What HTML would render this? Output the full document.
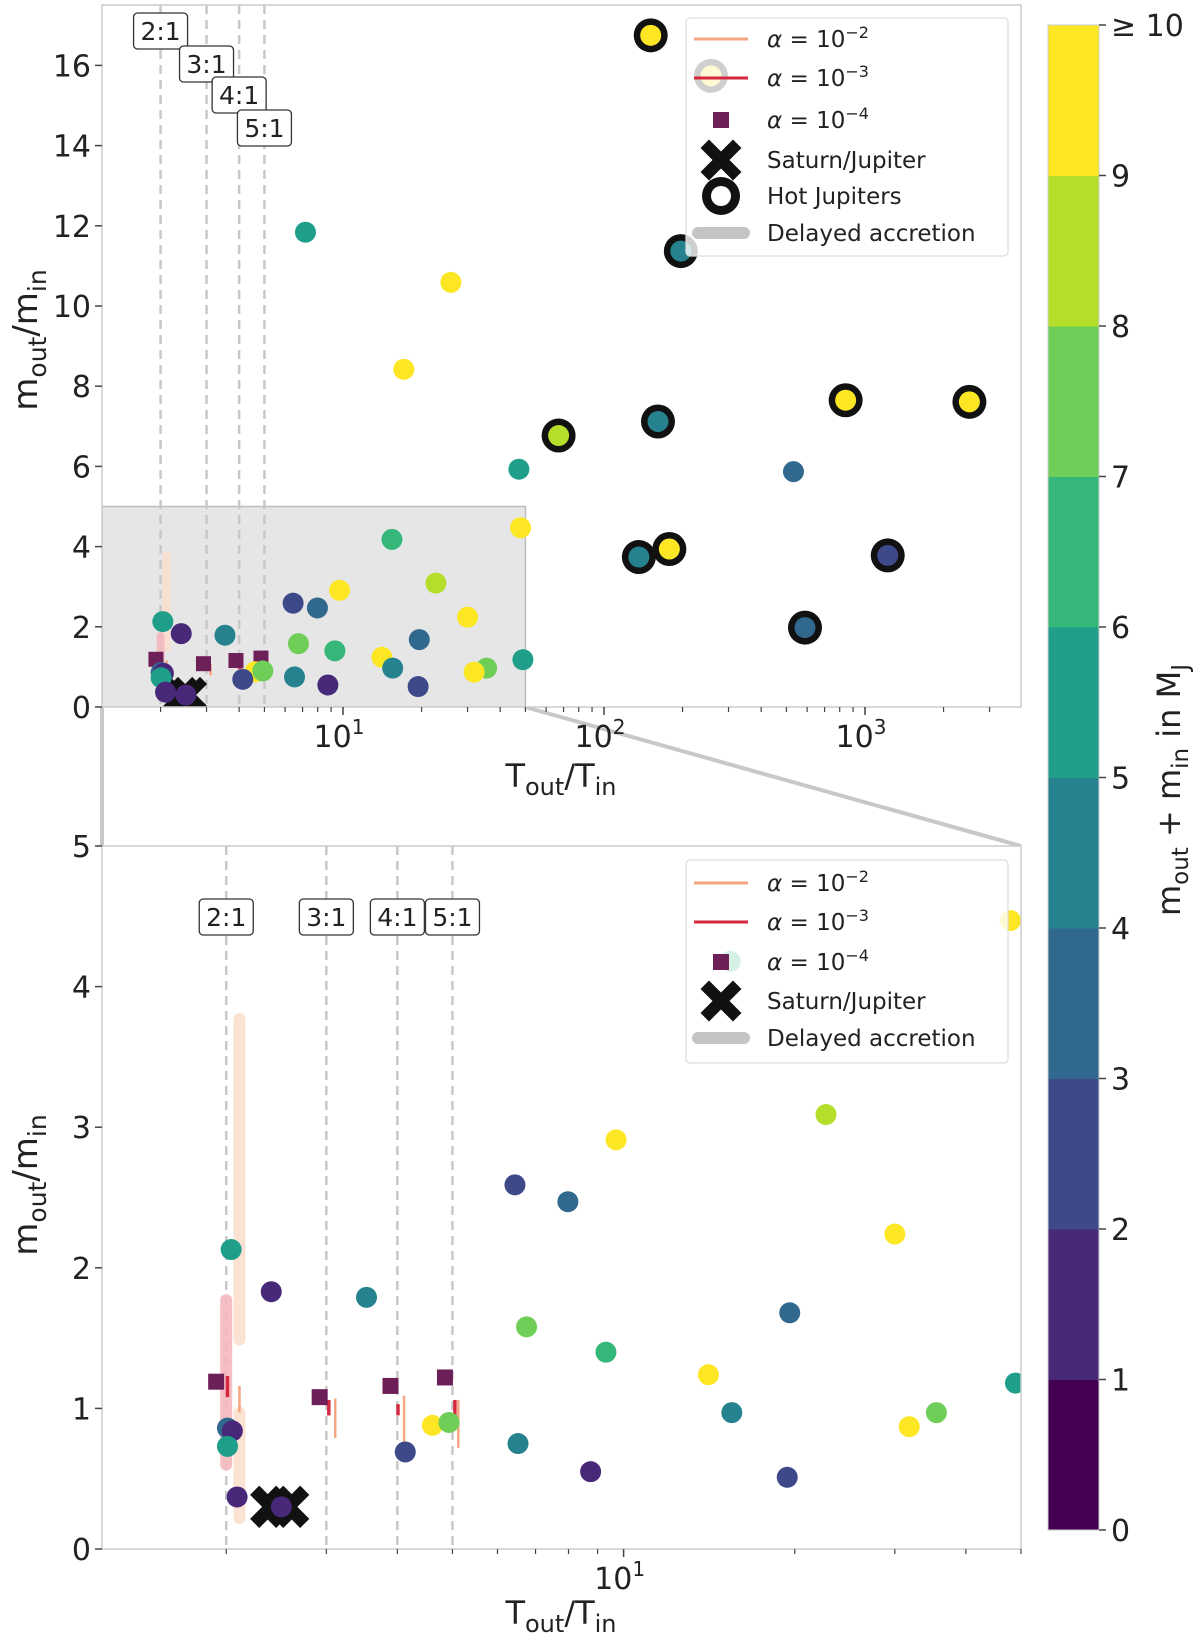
<!DOCTYPE html>
<html><head><meta charset="utf-8"><style>
html,body{margin:0;padding:0;background:#fff}
svg{display:block;font-family:"DejaVu Sans","Liberation Sans",sans-serif}
</style></head><body>
<svg id="fig" width="1200" height="1642" viewBox="0 0 1200 1642" xmlns="http://www.w3.org/2000/svg"></svg>
<script>
// ---- data ----
const ptsT = [151, 7.18, 197, 25.9, 17.1, 843, 2512, 161, 67, 47.2, 532, 178, 136, 1222, 589, 257,
  47.9, 22.7, 9.7, 6.44, 7.98, 30, 2.04, 2.4, 3.53, 19.6, 6.75, 9.31, 14.1, 48.9, 15.5, 35.5, 31.8, 4.61, 4.93, 2.01, 2.05, 2.01, 6.52, 4.13, 8.75, 19.4, 2.09, 2.5, 15.4];
const ptsM = [16.75, 11.84, 11.37, 10.59, 8.42, 7.65, 7.61, 7.12, 6.77, 5.93, 5.87, 3.94, 3.74, 3.78, 1.98, 15.74,
  4.47, 3.09, 2.91, 2.59, 2.47, 2.24, 2.13, 1.83, 1.79, 1.68, 1.58, 1.40, 1.24, 1.18, 0.97, 0.97, 0.87, 0.88, 0.90, 0.86, 0.84, 0.73, 0.75, 0.69, 0.55, 0.51, 0.37, 0.30, 4.18];
const ptsLevel = [9, 5, 4, 9, 9, 9, 9, 4, 8, 5, 3, 9, 4, 2, 3, 9,
  9, 8, 9, 2, 3, 9, 5, 1, 4, 3, 7, 6, 9, 5, 4, 7, 9, 9, 7, 3, 1, 5, 4, 2, 1, 2, 1, 1, 6];
const ptsHJ = [1, 0, 1, 0, 0, 1, 1, 1, 1, 0, 0, 1, 1, 1, 1, 1,
  0, 0, 0, 0, 0, 0, 0, 0, 0, 0, 0, 0, 0, 0, 0, 0, 0, 0, 0, 0, 0, 0, 0, 0, 0, 0, 0, 0, 0];
const sqT = [1.92, 2.92, 3.89, 4.85];
const sqM = [1.19, 1.08, 1.16, 1.22];
const a2T = [2.11, 3.11, 4.11, 5.12];
const a2Lo = [0.97, 0.79, 0.76, 0.72];
const a2Hi = [1.16, 1.07, 1.09, 1.06];
const a3T = [2.01, 3.03, 4.01, 5.05];
const a3Lo = [1.08, 0.95, 0.95, 0.95];
const a3Hi = [1.23, 1.06, 1.03, 1.06];
const bandT = [2.11, 2.11, 2.0];
const bandLo = [1.49, 0.22, 0.60];
const bandHi = [3.77, 0.97, 1.77];
const bandColor = ["#fbdfcf", "#fbdfcf", "#f4b9bd"];
const sjT = [2.4, 2.57];
const sjM = [0.30, 0.30];
const resRatio = [2, 3, 4, 5];
const resLabels = ["2:1", "3:1", "4:1", "5:1"];
const viridis = ["#440154", "#482878", "#3e4989", "#31688e", "#26828e", "#1f9e89", "#35b779", "#6ece58", "#b5de2b", "#fde725"];
const cbTicks = ["0", "1", "2", "3", "4", "5", "6", "7", "8", "9", "≥ 10"];
const topYTicks = [0, 2, 4, 6, 8, 10, 12, 14, 16];
const botYTicks = [0, 1, 2, 3, 4, 5];

const NS = "http://www.w3.org/2000/svg";
const svg = document.getElementById("fig");
function mk(tag, attrs, parent) {
  const e = document.createElementNS(NS, tag);
  for (const k in attrs) e.setAttribute(k, attrs[k]);
  (parent || svg).appendChild(e);
  return e;
}
const L = Math.log10;
function xPath(cx, cy, d) {
  return `M${cx - d},${cy - d}L${cx + d},${cy + d}M${cx - d},${cy + d}L${cx + d},${cy - d}`;
}

const panels = [
  {key: "top", x0: 102, x1: 1021, yb: 707, yt: 5, xmaxV: 3975,
   sx: v => 343 + (L(v) - 1) * 261, sy: v => 707 - v * 40.1, yticks: topYTicks,
   labelY: [31, 64, 95, 128], hj: true, xs: 11, xw: 10},
  {key: "bottom", x0: 102, x1: 1021, yb: 1549, yt: 846, xmaxV: 50,
   sx: v => 623.6 + (L(v) - 1) * 568.5, sy: v => 1549 - v * 140.6, yticks: botYTicks,
   labelY: [917, 917, 917, 917], hj: false, xs: 12, xw: 13}
];

const defs = mk("defs", {});
let cl = mk("line", {x1: 102, y1: 707, x2: 102, y2: 846, stroke: "#c8c8c8", "stroke-width": 4});


cl = mk("line", {x1: 525, y1: 707, x2: 1021, y2: 846, stroke: "#c8c8c8", "stroke-width": 4});



panels.forEach(p => {
  const cp = mk("clipPath", {id: "clip-" + p.key}, defs);
  mk("rect", {x: p.x0, y: p.yt, width: p.x1 - p.x0, height: p.yb - p.yt}, cp);
  const g = mk("g", {});
  
  
  const plot = mk("g", {"clip-path": "url(#clip-" + p.key + ")"}, g);
  mk("rect", {x: p.x0, y: p.yt, width: p.x1 - p.x0, height: p.yb - p.yt, fill: "#fff"}, plot);
  if (p.key === "top") {
    const ir = mk("rect", {x: p.x0, y: p.sy(5), width: p.sx(50) - p.x0, height: p.yb - p.sy(5), fill: "#e6e6e6", stroke: "#bdbdbd", "stroke-width": 1.5}, plot);
    
    
  }
  resRatio.forEach((r, i) => {
    const ln = mk("line", {x1: p.sx(r), x2: p.sx(r), y1: p.yt, y2: p.yb, stroke: "#c8c8c8", "stroke-width": 2.5, "stroke-dasharray": "9,6"}, plot);
    
    
  });
  bandT.forEach((t, i) => {
    const b = mk("line", {x1: p.sx(t), x2: p.sx(t), y1: p.sy(bandLo[i]), y2: p.sy(bandHi[i]), stroke: bandColor[i], "stroke-width": p.key === "top" ? 8 : 12, "stroke-linecap": "round", opacity: 0.9}, plot);
    
    
  });
  a2T.forEach((t, i) => {
    const b = mk("line", {x1: p.sx(t), x2: p.sx(t), y1: p.sy(a2Lo[i]), y2: p.sy(a2Hi[i]), stroke: "#f4a582", "stroke-width": 2.5}, plot);
    
    
  });
  a3T.forEach((t, i) => {
    const b = mk("line", {x1: p.sx(t), x2: p.sx(t), y1: p.sy(a3Lo[i]), y2: p.sy(a3Hi[i]), stroke: "#d6273e", "stroke-width": 3.5}, plot);
    
    
  });
  const ss = p.key === "top" ? 15 : 16;
  sqT.forEach((t, i) => {
    const s = mk("rect", {x: p.sx(t) - ss / 2, y: p.sy(sqM[i]) - ss / 2, width: ss, height: ss, fill: "#6d1f58"}, plot);
    
    
  });
  sjT.forEach((t, i) => {
    const x = mk("path", {d: xPath(p.sx(t), p.sy(sjM[i]), p.xs), stroke: "#111", "stroke-width": p.xw, "stroke-linecap": "square"}, plot);
    
    
  });
  ptsT.forEach((t, i) => {
    const cx = p.sx(t), cy = p.sy(ptsM[i]);
    if (ptsHJ[i] && p.hj) {
      const r = mk("circle", {cx, cy, r: 17, fill: "#111"}, plot);
      
      
    }
    const c = mk("circle", {cx, cy, r: ptsHJ[i] && p.hj ? 10.5 : 10.5, fill: viridis[ptsLevel[i]]}, plot);
    
    
  });
  resRatio.forEach((r, i) => {
    const cx = p.sx(r), cy = p.labelY[i];
    const lg = mk("g", {}, g);
    
    
    mk("rect", {x: cx - 27, y: cy - 18, width: 54, height: 36, rx: 4, fill: "#fff", stroke: "#333", "stroke-width": 1.3}, lg);
    const tx = mk("text", {x: cx, y: cy + 9, "text-anchor": "middle", "font-size": 25, fill: "#222"}, lg);
    tx.textContent = resLabels[i];
  });
  const fr = mk("rect", {x: p.x0, y: p.yt, width: p.x1 - p.x0, height: p.yb - p.yt, fill: "none", stroke: "#cccccc", "stroke-width": 1.5}, g);
  
  
  p.yticks.forEach(v => {
    const y = p.sy(v);
    mk("line", {x1: p.x0 - 7, x2: p.x0, y1: y, y2: y, stroke: "#444", "stroke-width": 1.5}, g);
    const t = mk("text", {x: p.x0 - 11, y: y + 11, "text-anchor": "end", "font-size": 30, fill: "#222"}, g);
    
    
    t.textContent = v;
  });
  for (let dec = 1; dec <= 1000; dec *= 10) {
    for (let m = 1; m <= 9; m++) {
      const v = dec * m;
      if (v < 1.2 || v > p.xmaxV) continue;
      const x = p.sx(v);
      const major = m === 1;
      mk("line", {x1: x, x2: x, y1: p.yb, y2: p.yb + (major ? 8 : 5), stroke: "#444", "stroke-width": major ? 1.5 : 1.2}, g);
      if (major) {
        const t = mk("text", {x: x - 4, y: p.yb + 40, "text-anchor": "middle", "font-size": 30, fill: "#222"}, g);
        
        
        t.textContent = "10";
        const sup = mk("tspan", {dy: -13, "font-size": 20}, t);
        sup.textContent = String(Math.round(L(v)));
      }
    }
  }
  const xl = mk("text", {x: 561, y: p.yb + (p.key === "top" ? 80 : 75), "text-anchor": "middle", "font-size": 32, fill: "#222"}, g);
  
  
  xl.innerHTML = 'T<tspan dy="8" font-size="24">out</tspan><tspan dy="-8">/T</tspan><tspan dy="8" font-size="24">in</tspan>';
  const cy = p.key === "top" ? 340 : 1185;
  const yl = mk("text", {x: 0, y: 0, transform: `translate(37,${cy}) rotate(-90)`, "text-anchor": "middle", "font-size": 34, fill: "#222"}, g);
  
  
  yl.innerHTML = 'm<tspan dy="9" font-size="25">out</tspan><tspan dy="-9">/m</tspan><tspan dy="9" font-size="25">in</tspan>';
});

function legend(y0, y1, rows, name) {
  const g = mk("g", {});
  
  
  mk("rect", {x: 686, y: y0, width: 322, height: y1 - y0, rx: 4, fill: "#fff", "fill-opacity": 0.8, stroke: "#ddd", "stroke-width": 1.2}, g);
  rows.forEach(r => {
    const e = mk("g", {}, g);
    
    
    const mx = 721, y = r.y;
    if (r.k === "a2") mk("line", {x1: 694, x2: 748, y1: y, y2: y, stroke: "#f4a582", "stroke-width": 3}, e);
    if (r.k === "a3") mk("line", {x1: 694, x2: 748, y1: y, y2: y, stroke: "#d6273e", "stroke-width": 3}, e);
    if (r.k === "a4") mk("rect", {x: mx - 8, y: y - 8, width: 16, height: 16, fill: "#6d1f58"}, e);
    if (r.k === "sj") mk("path", {d: xPath(mx, y, 12), stroke: "#111", "stroke-width": 12, "stroke-linecap": "square"}, e);
    if (r.k === "hj") { mk("circle", {cx: mx, cy: y, r: 19, fill: "#111"}, e); mk("circle", {cx: mx, cy: y, r: 10, fill: "#fff"}, e); }
    if (r.k === "da") mk("line", {x1: 698, x2: 744, y1: y, y2: y, stroke: "#c4c4c4", "stroke-width": 12, "stroke-linecap": "round"}, e);
    const t = mk("text", {x: 767, y: y + 8, "font-size": 23, fill: "#222"}, e);
    t.innerHTML = r.t;
  });
}
const ah = (n) => '<tspan font-style="italic">α</tspan> = 10<tspan dy="-9" font-size="16">−' + n + '</tspan>';
legend(18, 256, [
  {k: "a2", y: 39, t: ah(2)}, {k: "a3", y: 78, t: ah(3)}, {k: "a4", y: 120, t: ah(4)},
  {k: "sj", y: 160, t: "Saturn/Jupiter"}, {k: "hj", y: 196, t: "Hot Jupiters"}, {k: "da", y: 233, t: "Delayed accretion"}
], "top-legend");
legend(860, 1063, [
  {k: "a2", y: 883, t: ah(2)}, {k: "a3", y: 922, t: ah(3)}, {k: "a4", y: 962, t: ah(4)},
  {k: "sj", y: 1001, t: "Saturn/Jupiter"}, {k: "da", y: 1038, t: "Delayed accretion"}
], "bottom-legend");

const cb = mk("g", {});


const cbTop = 25, cbBot = 1530, unit = (cbBot - cbTop) / 10;
viridis.forEach((c, i) => {
  const r = mk("rect", {x: 1048, y: cbBot - (i + 1) * unit, width: 51, height: unit + 0.5, fill: c}, cb);
  
  
});
mk("rect", {x: 1048, y: cbTop, width: 51, height: cbBot - cbTop, fill: "none", stroke: "#ccc", "stroke-width": 1}, cb);
cbTicks.forEach((lab, i) => {
  const y = cbBot - i * unit;
  mk("line", {x1: 1099, x2: 1106, y1: y, y2: y, stroke: "#444", "stroke-width": 1.5}, cb);
  const t = mk("text", {x: 1111, y: y + 11, "font-size": 30, fill: "#222"}, cb);
  
  
  t.textContent = lab;
});
const cbl = mk("text", {x: 0, y: 0, transform: "translate(1180,790) rotate(-90)", "text-anchor": "middle", "font-size": 32, fill: "#222"}, cb);


cbl.innerHTML = 'm<tspan dy="8" font-size="23">out</tspan><tspan dy="-8"> + m</tspan><tspan dy="8" font-size="23">in</tspan><tspan dy="-8"> in M</tspan><tspan dy="8" font-size="23">J</tspan>';
</script>
</body></html>
